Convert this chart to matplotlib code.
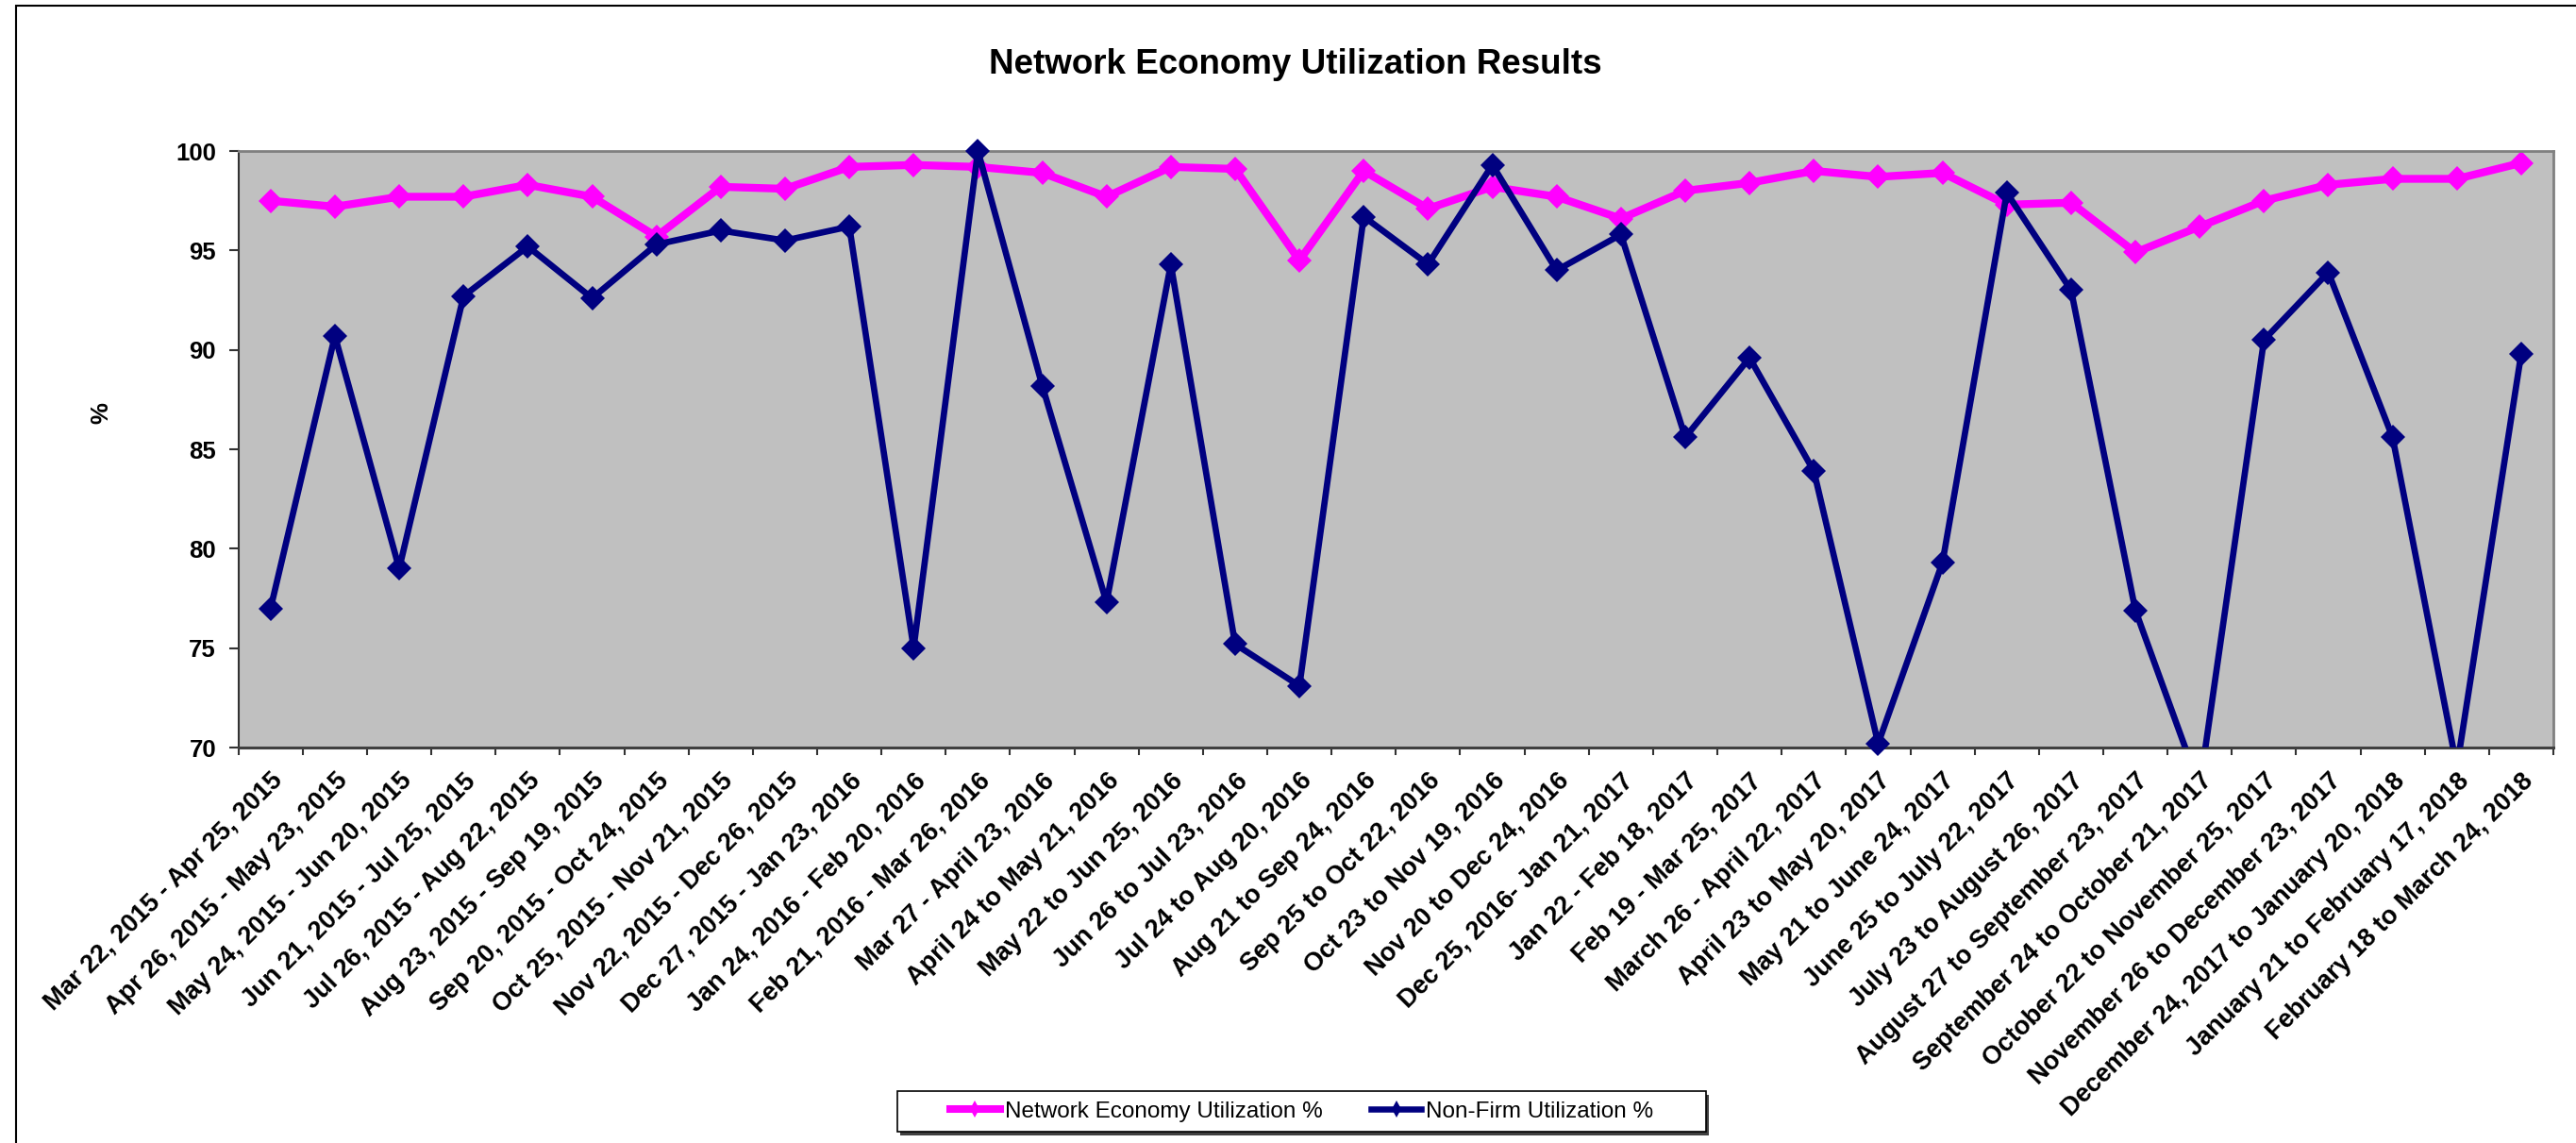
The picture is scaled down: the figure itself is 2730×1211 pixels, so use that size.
import numpy as np
import matplotlib
matplotlib.use("Agg")
import matplotlib.pyplot as plt
from matplotlib.patches import Rectangle
from matplotlib.lines import Line2D

plt.rcParams['font.family'] = ['Liberation Sans', 'DejaVu Sans']

# periodos (eixo x)
periodos = [
    "Mar 22, 2015 - Apr 25, 2015", "Apr 26, 2015 - May 23, 2015",
    "May 24, 2015 - Jun 20, 2015", "Jun 21, 2015 - Jul 25, 2015",
    "Jul 26, 2015 - Aug 22, 2015", "Aug 23, 2015 - Sep 19, 2015",
    "Sep 20, 2015 - Oct 24, 2015", "Oct 25, 2015 - Nov 21, 2015",
    "Nov 22, 2015 - Dec 26, 2015", "Dec 27, 2015 - Jan 23, 2016",
    "Jan 24, 2016 - Feb 20, 2016", "Feb 21, 2016 - Mar 26, 2016",
    "Mar 27 - April 23, 2016", "April 24 to May 21, 2016",
    "May 22 to Jun 25, 2016", "Jun 26 to Jul 23, 2016",
    "Jul 24 to Aug 20, 2016", "Aug 21 to Sep 24, 2016",
    "Sep 25 to Oct 22, 2016", "Oct 23 to Nov 19, 2016",
    "Nov 20 to Dec 24, 2016", "Dec 25, 2016- Jan 21, 2017",
    "Jan 22 - Feb 18, 2017", "Feb 19 - Mar 25, 2017",
    "March 26 - April 22, 2017", "April 23 to May 20, 2017",
    "May 21 to June 24, 2017", "June 25 to July 22, 2017",
    "July 23 to August 26, 2017", "August 27 to September 23, 2017",
    "September 24 to October 21, 2017", "October 22 to November 25, 2017",
    "November 26 to December 23, 2017", "December 24, 2017 to January 20, 2018",
    "January 21 to February 17, 2018", "February 18 to March 24, 2018",
]

# series (%)
network_economy = [97.5, 97.2, 97.7, 97.7, 98.3, 97.7, 95.7, 98.2, 98.1, 99.2,
                   99.3, 99.2, 98.9, 97.7, 99.2, 99.1, 94.5, 99.0, 97.1, 98.2,
                   97.7, 96.6, 98.0, 98.4, 99.0, 98.7, 98.9, 97.3, 97.4, 94.9,
                   96.2, 97.5, 98.3, 98.6, 98.6, 99.4]
non_firm = [77.0, 90.7, 79.0, 92.7, 95.2, 92.6, 95.3, 96.0, 95.5, 96.2,
            75.0, 100.0, 88.2, 77.3, 94.3, 75.2, 73.1, 96.7, 94.3, 99.3,
            94.0, 95.8, 85.6, 89.6, 83.9, 70.2, 79.3, 97.9, 93.0, 76.9,
            68.0, 90.5, 93.9, 85.6, 69.0, 89.8]

rosa = '#FF00FF'
azul = '#000080'

W, H = 2730, 1211
fig = plt.figure(figsize=(W / 100, H / 100), dpi=100)

# borda externa do grafico
fig.patches.append(Rectangle((17 / W, -0.05), 1.2, 1 - 6 / H + 0.05,
                             transform=fig.transFigure, fill=False,
                             ec='black', lw=1.5))

ax = fig.add_axes([252.7 / W, 1 - 792 / H, (2706 - 252.7) / W, (792 - 160) / H])
ax.set_facecolor('#C0C0C0')

x = np.arange(len(periodos))
ax.plot(x, network_economy, color=rosa, lw=6, zorder=2)
ax.plot(x, non_firm, color=azul, lw=4.8, zorder=3)
# marcadores fora do clip (excel nao corta), mas so dentro da faixa
ax.plot(x, np.ma.masked_less(network_economy, 70), ls='none', marker='D',
        ms=13.5, mew=0, color=rosa, clip_on=False, zorder=2.5)
ax.plot(x, np.ma.masked_less(non_firm, 70), ls='none', marker='D',
        ms=13.5, mew=0, color=azul, clip_on=False, zorder=3.5)

ax.set_xlim(-0.5, len(periodos) - 0.5)
ax.set_ylim(70, 100)
ax.set_yticks(np.arange(70, 101, 5))
ax.tick_params(axis='y', direction='out', length=7, width=1.5, pad=10,
               labelsize=18.5, color='#333333')
for t in ax.get_yticklabels():
    t.set_fontweight('bold')

ax.set_xticks(x)
ax.set_xticklabels(periodos, rotation=45, ha='right', va='top',
                   rotation_mode='anchor', fontsize=19.5, fontweight='bold')
ax.tick_params(axis='x', which='major', length=0, pad=16)
ax.set_xticks(np.arange(-0.5, len(periodos), 1), minor=True)
ax.tick_params(axis='x', which='minor', direction='out', length=6, width=1.5,
               color='#333333')

for lado in ['top', 'right']:
    ax.spines[lado].set_color('#808080')
    ax.spines[lado].set_linewidth(2)
ax.spines['left'].set_color('#333333')
ax.spines['left'].set_linewidth(1.5)
ax.spines['bottom'].set_color('#404040')
ax.spines['bottom'].set_linewidth(2.2)

fig.text(1373 / W, 1 - 69 / H, 'Network Economy Utilization Results',
         ha='center', va='center', fontsize=26.5, fontweight='bold')
fig.text(107 / W, 1 - 438 / H, '%', rotation=90, ha='center', va='center',
         fontsize=18.5, fontweight='bold')

# legenda com moldura desenhada a mao (sombra embaixo)
lx0, lx1, ly0, ly1 = 951, 1808, 1156, 1199
fig.patches.append(Rectangle(((lx0 + 3) / W, 1 - (ly1 + 4) / H), (lx1 - lx0) / W,
                             (ly1 - ly0) / H, transform=fig.transFigure,
                             fc='#404040', ec='none', zorder=1))
fig.patches.append(Rectangle((lx0 / W, 1 - ly1 / H), (lx1 - lx0) / W,
                             (ly1 - ly0) / H, transform=fig.transFigure,
                             fc='white', ec='black', lw=1.2, zorder=2))
handles = [Line2D([], [], color=rosa, lw=5.8, marker='d', ms=9, mew=0),
           Line2D([], [], color=azul, lw=4.7, marker='d', ms=9, mew=0)]
leg = fig.legend(handles, ['Network Economy Utilization %', 'Non-Firm Utilization %'],
                 loc='center', bbox_to_anchor=((lx0 + lx1) / 2 / W, 1 - (ly0 + ly1) / 2 / H),
                 ncol=2, frameon=False, fontsize=17.5, handlelength=2.2,
                 handletextpad=0.2, columnspacing=2.1)
leg.set_zorder(5)

fig.savefig('out.png', dpi=100)
